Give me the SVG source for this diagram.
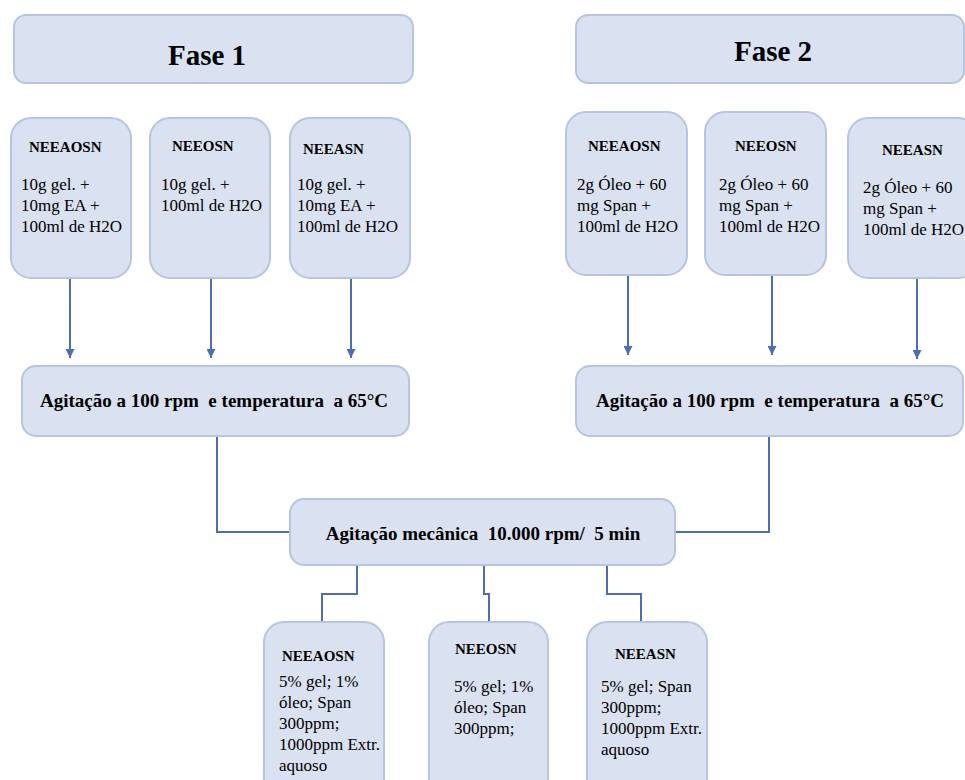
<svg xmlns="http://www.w3.org/2000/svg" width="965" height="780" viewBox="0 0 965 780" font-family="'Liberation Serif', 'Times New Roman', serif">
<defs>
<style>
.box{fill:#dae1f0;stroke:#b7c4e2;stroke-width:2}
.t{fill:#000}
.h{font-size:29px;font-weight:bold;text-anchor:middle}
.lb{font-size:15px;font-weight:bold}
.bd{font-size:17px}
.ag{font-size:19px;font-weight:bold;text-anchor:middle}
.c{fill:none;stroke:#4e6db8;stroke-width:2}
</style>
<marker id="ah" viewBox="0 0 10 10" refX="10" refY="5" markerWidth="9" markerHeight="9" markerUnits="userSpaceOnUse" orient="auto">
<path d="M0,0 L10,5 L0,10 z" fill="#4e6db8"/>
</marker>
</defs>
<rect width="965" height="780" fill="#fff"/>

<g id="connectors">
<line class="c" x1="70" y1="278" x2="70" y2="358" marker-end="url(#ah)"/>
<line class="c" x1="211" y1="278" x2="211" y2="358" marker-end="url(#ah)"/>
<line class="c" x1="351" y1="278" x2="351" y2="358" marker-end="url(#ah)"/>
<line class="c" x1="628" y1="275" x2="628" y2="355" marker-end="url(#ah)"/>
<line class="c" x1="772" y1="275" x2="772" y2="355" marker-end="url(#ah)"/>
<line class="c" x1="917" y1="278" x2="917" y2="359" marker-end="url(#ah)"/>
<polyline class="c" points="217,436 217,532 290,532"/>
<polyline class="c" points="769,436 769,532 675,532"/>
<polyline class="c" points="357,565 357,594 322,594 322,622"/>
<polyline class="c" points="484,565 484,594 489,594 489,622"/>
<polyline class="c" points="607,565 607,594 641,594 641,622"/>
</g>

<g id="fase1">
<rect class="box" x="14" y="15" width="399" height="68" rx="12"/>
<text class="t h" x="207" y="65">Fase 1</text>
</g>
<g id="fase2">
<rect class="box" x="576" y="15" width="388" height="68" rx="12"/>
<text class="t h" x="773" y="61">Fase 2</text>
</g>

<g id="f1-neeaosn">
<rect class="box" x="11" y="118" width="120" height="160" rx="20"/>
<text class="t lb" x="29" y="152">NEEAOSN</text>
<text class="t bd" x="21" y="190">10g gel. +</text>
<text class="t bd" x="21" y="211">10mg EA +</text>
<text class="t bd" x="21" y="232">100ml de H2O</text>
</g>
<g id="f1-neeosn">
<rect class="box" x="150" y="118" width="120" height="160" rx="20"/>
<text class="t lb" x="172" y="151">NEEOSN</text>
<text class="t bd" x="161" y="190">10g gel. +</text>
<text class="t bd" x="161" y="211">100ml de H2O</text>
</g>
<g id="f1-neeasn">
<rect class="box" x="290" y="118" width="120" height="160" rx="20"/>
<text class="t lb" x="303" y="154">NEEASN</text>
<text class="t bd" x="297" y="190">10g gel. +</text>
<text class="t bd" x="297" y="211">10mg EA +</text>
<text class="t bd" x="297" y="232">100ml de H2O</text>
</g>

<g id="f2-neeaosn">
<rect class="box" x="566" y="112" width="121" height="163" rx="20"/>
<text class="t lb" x="588" y="151">NEEAOSN</text>
<text class="t bd" x="577" y="190">2g Óleo + 60</text>
<text class="t bd" x="577" y="211">mg Span +</text>
<text class="t bd" x="577" y="232">100ml de H2O</text>
</g>
<g id="f2-neeosn">
<rect class="box" x="705" y="112" width="121" height="163" rx="20"/>
<text class="t lb" x="735" y="151">NEEOSN</text>
<text class="t bd" x="719" y="190">2g Óleo + 60</text>
<text class="t bd" x="719" y="211">mg Span +</text>
<text class="t bd" x="719" y="232">100ml de H2O</text>
</g>
<g id="f2-neeasn">
<rect class="box" x="848" y="118" width="130" height="160" rx="20"/>
<text class="t lb" x="882" y="155">NEEASN</text>
<text class="t bd" x="863" y="193">2g Óleo + 60</text>
<text class="t bd" x="863" y="214">mg Span +</text>
<text class="t bd" x="863" y="235">100ml de H2O</text>
</g>

<g id="agit1">
<rect class="box" x="22" y="366" width="387" height="70" rx="14"/>
<text class="t ag" x="214" y="407" xml:space="preserve">Agitação a 100 rpm  e temperatura  a 65°C</text>
</g>
<g id="agit2">
<rect class="box" x="576" y="366" width="387" height="70" rx="14"/>
<text class="t ag" x="770" y="407" xml:space="preserve">Agitação a 100 rpm  e temperatura  a 65°C</text>
</g>
<g id="mecanica">
<rect class="box" x="290" y="499" width="385" height="66" rx="14"/>
<text class="t ag" x="483" y="540" xml:space="preserve">Agitação mecânica  10.000 rpm/  5 min</text>
</g>

<g id="r-neeaosn">
<rect class="box" x="264" y="622" width="120" height="190" rx="20"/>
<text class="t lb" x="282" y="661">NEEAOSN</text>
<text class="t bd" x="279" y="687">5% gel; 1%</text>
<text class="t bd" x="279" y="708">óleo; Span</text>
<text class="t bd" x="279" y="729">300ppm;</text>
<text class="t bd" x="279" y="750">1000ppm Extr.</text>
<text class="t bd" x="279" y="771">aquoso</text>
</g>
<g id="r-neeosn">
<rect class="box" x="429" y="622" width="119" height="190" rx="20"/>
<text class="t lb" x="455" y="654">NEEOSN</text>
<text class="t bd" x="454" y="692">5% gel; 1%</text>
<text class="t bd" x="454" y="713">óleo; Span</text>
<text class="t bd" x="454" y="734">300ppm;</text>
</g>
<g id="r-neeasn">
<rect class="box" x="587" y="622" width="120" height="190" rx="20"/>
<text class="t lb" x="615" y="659">NEEASN</text>
<text class="t bd" x="601" y="692">5% gel; Span</text>
<text class="t bd" x="601" y="713">300ppm;</text>
<text class="t bd" x="601" y="734">1000ppm Extr.</text>
<text class="t bd" x="601" y="755">aquoso</text>
</g>
</svg>
